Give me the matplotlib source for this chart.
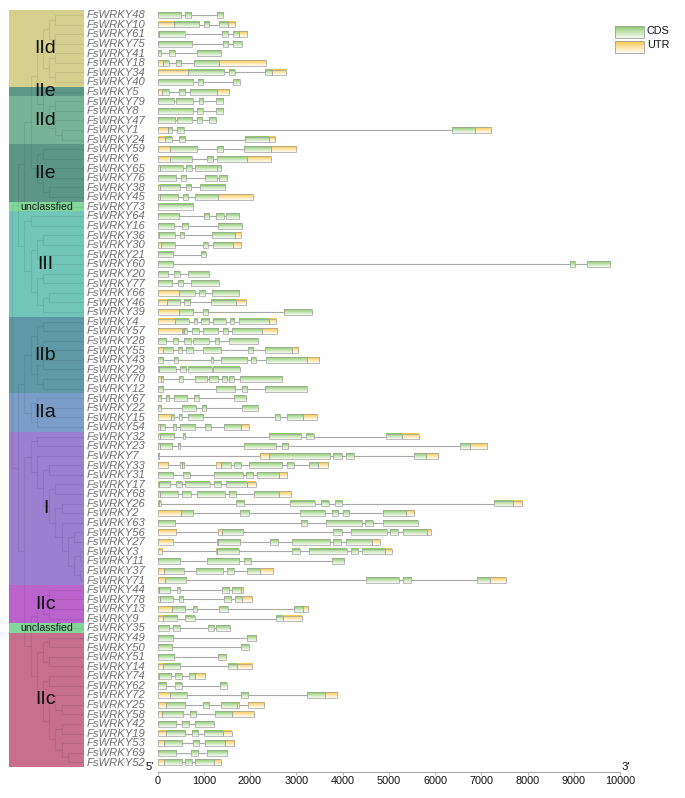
import numpy as np
import matplotlib
matplotlib.use('Agg')
import matplotlib.pyplot as plt
from matplotlib.patches import Rectangle
from matplotlib.colors import to_rgb

plt.rcParams['font.family'] = ['Liberation Sans', 'DejaVu Sans']

# gene order (top to bottom), numbers of FsWRKY genes
genes = [48, 10, 61, 75, 41, 18, 34, 40, 5, 79, 8, 47, 1, 24, 59, 6, 65, 76, 38, 45,
         73, 64, 16, 36, 30, 21, 60, 20, 77, 66, 46, 39, 4, 57, 28, 55, 43, 29, 70, 12,
         67, 22, 15, 54, 32, 23, 7, 33, 31, 17, 68, 26, 2, 63, 56, 27, 3, 11, 37, 71,
         44, 78, 13, 9, 35, 49, 50, 51, 14, 74, 62, 72, 25, 58, 42, 19, 53, 69, 52]

group_names = ['IId', 'IIe', 'IId', 'IIe', 'unclassfied', 'III', 'IIb', 'IIa', 'I',
               'IIc', 'unclassfied', 'IIc']
group_sizes = [8, 1, 5, 6, 1, 11, 8, 4, 16, 4, 1, 14]
group_colors = ['#d5d08e', '#5e9886', '#78b397', '#5d9685', '#82d89b', '#72c6b8',
                '#5f98a6', '#7a9ec8', '#9b80d0', '#bb63cc', '#82d89b', '#c76f8c']

# tree topology (approximate)
clade_d1 = (((48, 10), (61, 75)), ((41, 18), (34, 40)))
clade_d2 = (5, ((79, 8), (47, (1, 24))))
clade_e = ((59, 6), ((65, 76), (38, 45)))
clade_3 = ((64, 16), (((36, 30), (21, 60)), ((20, 77), ((66, 46), 39))))
clade_b = (((4, 57), (28, 55)), ((43, 29), (70, 12)))
clade_a = ((67, 22), (15, 54))
clade_1 = ((32, 23), (7, ((33, 31), ((17, 68), ((26, 2), (63, ((56, 27), ((3, 11), (37, 71)))))))))
clade_c1 = ((44, 78), (13, 9))
clade_c2 = (((49, 50), (51, 14)), ((74, 62), ((72, (25, 58)), ((42, 19), (53, (69, 52))))))
tree = (((((clade_d1, clade_d2), clade_e), 73), clade_3),
        ((clade_b, clade_a), (clade_1, ((clade_c1, 35), clade_c2))))

# gene models: (start, end, type) in bp, C = CDS, U = UTR
gene_models = {
    48: [(0, 500, 'C'), (590, 720, 'C'), (1280, 1420, 'C')],
    10: [(0, 355, 'U'), (355, 905, 'C'), (1005, 1115, 'C'), (1335, 1530, 'C'), (1530, 1685, 'U')],
    61: [(0, 40, 'U'), (40, 600, 'C'), (1400, 1515, 'C'), (1625, 1755, 'C'), (1755, 1935, 'U')],
    75: [(0, 740, 'C'), (1410, 1530, 'C'), (1640, 1820, 'C')],
    41: [(0, 85, 'C'), (255, 380, 'C'), (860, 1365, 'C')],
    18: [(0, 125, 'U'), (125, 250, 'C'), (395, 515, 'C'), (790, 1335, 'C'), (1335, 2340, 'U')],
    34: [(0, 665, 'U'), (665, 1445, 'C'), (1555, 1670, 'C'), (2325, 2470, 'C'), (2470, 2780, 'U')],
    40: [(0, 760, 'C'), (870, 990, 'C'), (1640, 1785, 'C')],
    5: [(0, 100, 'U'), (100, 240, 'C'), (465, 600, 'C'), (700, 1285, 'C'), (1285, 1550, 'U')],
    79: [(0, 350, 'C'), (400, 760, 'C'), (890, 985, 'C'), (1265, 1425, 'C')],
    8: [(0, 760, 'C'), (855, 975, 'C'), (1265, 1425, 'C')],
    47: [(0, 370, 'C'), (415, 740, 'C'), (860, 970, 'C'), (1115, 1260, 'C')],
    1: [(0, 220, 'U'), (220, 320, 'C'), (430, 580, 'C'), (6375, 6870, 'C'), (6870, 7200, 'U')],
    24: [(0, 170, 'U'), (170, 320, 'C'), (465, 600, 'C'), (1900, 2420, 'C'), (2420, 2550, 'U')],
    59: [(0, 270, 'U'), (270, 860, 'C'), (1280, 1425, 'C'), (1865, 2445, 'C'), (2445, 2995, 'U')],
    6: [(0, 270, 'U'), (270, 740, 'C'), (1080, 1210, 'C'), (1295, 1930, 'C'), (1930, 2445, 'U')],
    65: [(0, 55, 'U'), (55, 545, 'C'), (625, 740, 'C'), (810, 1280, 'C'), (1290, 1380, 'C')],
    76: [(0, 390, 'C'), (500, 615, 'C'), (1025, 1280, 'C'), (1320, 1495, 'C')],
    38: [(0, 55, 'U'), (55, 495, 'C'), (610, 720, 'C'), (920, 1465, 'C')],
    45: [(0, 55, 'U'), (55, 450, 'C'), (545, 655, 'C'), (820, 1310, 'C'), (1310, 2060, 'U')],
    73: [(0, 775, 'C')],
    64: [(0, 465, 'C'), (1000, 1120, 'C'), (1270, 1440, 'C'), (1480, 1770, 'C')],
    16: [(0, 350, 'C'), (530, 660, 'C'), (1315, 1820, 'C')],
    36: [(0, 40, 'U'), (40, 385, 'C'), (485, 580, 'C'), (1185, 1685, 'C'), (1685, 1810, 'U')],
    30: [(0, 85, 'U'), (85, 380, 'C'), (985, 1085, 'C'), (1205, 1625, 'C'), (1625, 1800, 'U')],
    21: [(0, 330, 'C'), (950, 1055, 'C')],
    60: [(0, 330, 'C'), (8926, 9030, 'C'), (9280, 9780, 'C')],
    20: [(0, 235, 'C'), (355, 480, 'C'), (665, 1115, 'C')],
    77: [(0, 320, 'C'), (435, 560, 'C'), (715, 1320, 'C')],
    66: [(0, 465, 'U'), (465, 810, 'C'), (905, 1035, 'C'), (1170, 1770, 'C')],
    46: [(0, 210, 'U'), (210, 495, 'C'), (575, 705, 'C'), (1150, 1700, 'C'), (1700, 1920, 'U')],
    39: [(0, 465, 'U'), (465, 775, 'C'), (975, 1090, 'C'), (2735, 3340, 'C')],
    4: [(0, 385, 'U'), (385, 675, 'C'), (780, 860, 'C'), (940, 1120, 'C'), (1205, 1475, 'C'),
        (1560, 1660, 'C'), (1755, 2405, 'C'), (2405, 2560, 'U')],
    57: [(0, 525, 'U'), (545, 565, 'C'), (580, 630, 'C'), (740, 890, 'C'), (990, 1315, 'C'),
         (1410, 1515, 'C'), (1615, 2250, 'C'), (2250, 2585, 'U')],
    28: [(0, 175, 'C'), (340, 450, 'C'), (565, 715, 'C'), (775, 1105, 'C'), (1235, 1330, 'C'),
         (1555, 2165, 'C')],
    55: [(0, 125, 'U'), (125, 340, 'C'), (435, 530, 'C'), (610, 775, 'C'), (990, 1365, 'C'),
         (1950, 2065, 'C'), (2325, 2900, 'C'), (2900, 3030, 'U')],
    43: [(0, 110, 'C'), (355, 435, 'C'), (1150, 1205, 'C'), (1365, 1930, 'C'), (2015, 2120, 'C'),
         (2345, 3240, 'C'), (3240, 3500, 'U')],
    29: [(0, 25, 'C'), (40, 395, 'C'), (495, 625, 'C'), (665, 1170, 'C'), (1205, 1785, 'C')],
    70: [(0, 75, 'U'), (75, 125, 'C'), (465, 550, 'C'), (820, 1080, 'C'), (1115, 1310, 'C'),
         (1385, 1495, 'C'), (1555, 1660, 'C'), (1775, 2685, 'C')],
    12: [(0, 125, 'C'), (1260, 1675, 'C'), (1825, 1940, 'C'), (2330, 3225, 'C')],
    67: [(0, 75, 'C'), (185, 255, 'C'), (355, 640, 'C'), (795, 895, 'C'), (1660, 1905, 'C')],
    22: [(0, 75, 'C'), (525, 825, 'C'), (955, 1055, 'C'), (1835, 2175, 'C')],
    15: [(0, 285, 'U'), (285, 365, 'C'), (470, 530, 'C'), (665, 990, 'C'), (2550, 2650, 'C'),
         (2795, 3155, 'C'), (3155, 3440, 'U')],
    54: [(0, 55, 'U'), (55, 155, 'C'), (330, 400, 'C'), (495, 820, 'C'), (1035, 1150, 'C'),
         (1445, 1800, 'C'), (1800, 1970, 'U')],
    32: [(0, 55, 'U'), (55, 365, 'C'), (550, 600, 'C'), (2405, 3110, 'C'), (3220, 3385, 'C'),
         (4935, 5295, 'C'), (5295, 5650, 'U')],
    23: [(0, 55, 'U'), (55, 320, 'C'), (435, 495, 'C'), (1880, 2560, 'C'), (2685, 2830, 'C'),
         (6540, 6755, 'C'), (6755, 7130, 'U')],
    7: [(0, 30, 'C'), (2210, 2405, 'U'), (2405, 3735, 'C'), (3800, 3980, 'C'), (4070, 4240, 'C'),
        (5546, 5800, 'C'), (5800, 6070, 'U')],
    33: [(0, 220, 'U'), (480, 520, 'U'), (520, 565, 'C'), (1270, 1375, 'U'), (1375, 1590, 'C'),
         (1660, 1800, 'C'), (1970, 2685, 'C'), (2800, 2945, 'C'), (3275, 3465, 'C'), (3465, 3690, 'U')],
    31: [(0, 330, 'C'), (555, 705, 'C'), (1230, 1840, 'C'), (1910, 2070, 'C'), (2160, 2620, 'C'),
         (2620, 2805, 'U')],
    17: [(0, 30, 'U'), (30, 275, 'C'), (395, 520, 'C'), (600, 1130, 'C'), (1215, 1375, 'C'),
         (1480, 1930, 'C'), (1930, 2120, 'U')],
    68: [(0, 55, 'U'), (55, 435, 'C'), (535, 715, 'C'), (860, 1450, 'C'), (1540, 1690, 'C'),
         (2095, 2635, 'C'), (2635, 2880, 'U')],
    26: [(0, 40, 'U'), (40, 75, 'C'), (1690, 1880, 'C'), (2870, 3410, 'C'), (3545, 3700, 'C'),
         (3840, 3995, 'C'), (7285, 7695, 'C'), (7695, 7890, 'U')],
    2: [(0, 515, 'U'), (515, 775, 'C'), (1790, 1985, 'C'), (3090, 3630, 'C'), (3765, 3910, 'C'),
        (4000, 4150, 'C'), (4885, 5375, 'C'), (5375, 5555, 'U')],
    63: [(0, 385, 'C'), (3100, 3240, 'C'), (3640, 4415, 'C'), (4490, 4650, 'C'), (4870, 5625, 'C')],
    56: [(0, 395, 'U'), (1315, 1400, 'U'), (1400, 1855, 'C'), (3790, 3980, 'C'), (4180, 4955, 'C'),
         (5030, 5195, 'C'), (5300, 5820, 'C'), (5820, 5920, 'U')],
    27: [(0, 345, 'U'), (1280, 1300, 'U'), (1300, 1785, 'C'), (2430, 2610, 'C'), (2915, 3720, 'C'),
         (3800, 3960, 'C'), (4070, 4630, 'C'), (4630, 4800, 'U')],
    3: [(0, 90, 'U'), (1265, 1295, 'U'), (1295, 1755, 'C'), (2910, 3080, 'C'), (3280, 4090, 'C'),
        (4175, 4345, 'C'), (4420, 4925, 'C'), (4925, 5070, 'U')],
    11: [(0, 480, 'C'), (1065, 1770, 'C'), (1865, 2015, 'C'), (3765, 4025, 'C')],
    37: [(0, 150, 'U'), (150, 580, 'C'), (825, 1425, 'C'), (1510, 1660, 'C'), (1930, 2215, 'C'),
         (2215, 2505, 'U')],
    71: [(0, 160, 'U'), (160, 615, 'C'), (4515, 5220, 'C'), (5300, 5475, 'C'), (6900, 7190, 'C'),
         (7190, 7530, 'U')],
    44: [(0, 30, 'U'), (30, 270, 'C'), (420, 495, 'C'), (1385, 1540, 'C'), (1620, 1800, 'C'),
         (1800, 1855, 'U')],
    78: [(0, 55, 'U'), (55, 330, 'C'), (470, 545, 'C'), (1440, 1595, 'C'), (1670, 1835, 'C'),
         (1835, 2040, 'U')],
    13: [(0, 305, 'U'), (305, 600, 'C'), (775, 845, 'C'), (1335, 1515, 'C'), (2960, 3140, 'C'),
         (3140, 3260, 'U')],
    9: [(0, 125, 'U'), (125, 430, 'C'), (600, 810, 'C'), (2555, 2720, 'C'), (2720, 3115, 'U')],
    35: [(0, 255, 'C'), (340, 485, 'C'), (1100, 1230, 'C'), (1270, 1570, 'C')],
    49: [(0, 340, 'C'), (1930, 2130, 'C')],
    50: [(0, 320, 'C'), (1800, 1970, 'C')],
    51: [(0, 360, 'C'), (1300, 1480, 'C')],
    14: [(0, 110, 'U'), (110, 495, 'C'), (1515, 1710, 'C'), (1710, 2035, 'U')],
    74: [(0, 25, 'U'), (25, 300, 'C'), (380, 520, 'C'), (680, 800, 'C'), (800, 1030, 'U')],
    62: [(0, 180, 'C'), (380, 530, 'C'), (1350, 1500, 'C')],
    72: [(0, 270, 'U'), (270, 630, 'C'), (1800, 1960, 'C'), (3240, 3620, 'C'), (3620, 3890, 'U')],
    25: [(0, 180, 'U'), (180, 600, 'C'), (980, 1120, 'C'), (1370, 1720, 'C'), (1720, 1770, 'U'),
         (1950, 2310, 'U')],
    58: [(0, 90, 'U'), (90, 550, 'C'), (700, 830, 'C'), (1240, 1620, 'C'), (1620, 2090, 'U')],
    42: [(0, 390, 'C'), (530, 690, 'C'), (810, 1220, 'C')],
    19: [(0, 180, 'U'), (180, 600, 'C'), (750, 880, 'C'), (1000, 1410, 'C'), (1410, 1600, 'U')],
    53: [(0, 140, 'U'), (140, 520, 'C'), (760, 900, 'C'), (1020, 1450, 'C'), (1450, 1660, 'U')],
    69: [(0, 410, 'C'), (720, 880, 'C'), (1070, 1510, 'C')],
    52: [(0, 130, 'U'), (130, 520, 'C'), (590, 740, 'C'), (820, 1230, 'C'), (1230, 1380, 'U')],
}

xticks = list(range(0, 10001, 1000))

W, H = 685, 798
row0, pitch = 15.0, 9.58
axis_y = 771.5


def ypx(i):
    return row0 + i * pitch


fig = plt.figure(figsize=(W / 100, H / 100), dpi=100)
ax0 = fig.add_axes([0, 0, 1, 1])
ax0.set_xlim(0, W)
ax0.set_ylim(H, 0)
ax0.axis('off')

ax = fig.add_axes([157.5 / W, (H - axis_y) / H, 462.5 / W, axis_y / H])
ax.patch.set_alpha(0)

# group blocks
start = 0
for name, n, col in zip(group_names, group_sizes, group_colors):
    y0 = ypx(start) - pitch / 2
    y1 = ypx(start + n - 1) + pitch / 2
    ax0.add_patch(Rectangle((9, y0), 84.5 - 9, y1 - y0, fc=col, ec='none', zorder=1))
    yc = (y0 + y1) / 2
    if name == 'unclassfied':
        ax0.text(46.5, yc + 0.3, name, ha='center', va='center', fontsize=7.6,
                 color='#1a1a1a', zorder=4)
    else:
        ax0.text(45.5, yc, name, ha='center', va='center', fontsize=14,
                 color='#111111', zorder=4)
    start += n

# tree
x_root, x_leaf, step = 12.0, 84.5, 6.2
tree_kw = dict(color='black', alpha=0.08, lw=0.8, zorder=2, solid_capstyle='butt')


def draw_tree(node, depth):
    if isinstance(node, int):
        return ypx(genes.index(node))
    x = x_root + depth * step
    ys = []
    for ch in node:
        yc = draw_tree(ch, depth + 1)
        xc = x_leaf if isinstance(ch, int) else x_root + (depth + 1) * step
        ax0.plot([x, xc], [yc, yc], **tree_kw)
        ys.append(yc)
    ax0.plot([x, x], [min(ys), max(ys)], **tree_kw)
    return (min(ys) + max(ys)) / 2


draw_tree(tree, 0)

# gene labels
for i, g in enumerate(genes):
    ax0.text(86.5, ypx(i) + 0.3, 'FsWRKY%d' % g, ha='left', va='center', fontsize=8.1,
             style='italic', color='#6e6e6e')

# gradient boxes
tops = {'C': '#82c75e', 'U': '#f7c53c'}
bottoms = {'C': '#f3f8ee', 'U': '#fffaf0'}


def grad(kind, n=12):
    t = np.linspace(0, 1, n)[:, None] ** 0.8
    c0 = np.array(to_rgb(tops[kind]))
    c1 = np.array(to_rgb(bottoms[kind]))
    return (c0 * (1 - t) + c1 * t)[:, None, :]


hh = 2.9
for i, g in enumerate(genes):
    y = ypx(i)
    segs = gene_models[g]
    ax.plot([min(s[0] for s in segs), max(s[1] for s in segs)], [y, y],
            color='#a8a8a8', lw=0.8, zorder=2)
    for s, e, k in segs:
        ax.imshow(grad(k), extent=(s, e, y + hh, y - hh), aspect='auto',
                  interpolation='bilinear', zorder=3)
        ax.add_patch(Rectangle((s, y - hh), e - s, 2 * hh, fill=False,
                               ec='#a0a0a0', lw=0.5, zorder=4))

ax.set_xlim(0, 10000)
ax.set_ylim(axis_y, 0)
for sp in ['top', 'right', 'left']:
    ax.spines[sp].set_visible(False)
ax.spines['bottom'].set_color('#aaaaaa')
ax.spines['bottom'].set_linewidth(0.8)
ax.set_yticks([])
ax.set_xticks(xticks)
ax.set_xticklabels([str(v) for v in xticks])
ax.tick_params(axis='x', length=2, width=0.6, color='#aaaaaa', pad=1.5,
               labelsize=7.8, labelcolor='#111111')

ax0.text(154, 767, "5'", ha='right', va='center', fontsize=8.2, color='#111111')
ax0.text(622, 767, "3'", ha='left', va='center', fontsize=8.2, color='#111111')

# legend
for j, (k, lab) in enumerate([('C', 'CDS'), ('U', 'UTR')]):
    ly = 26 + j * 15
    ax0.imshow(grad(k), extent=(615, 644, ly + 12, ly), aspect='auto',
               interpolation='bilinear', zorder=3)
    ax0.add_patch(Rectangle((615, ly), 29, 12, fill=False, ec='#a0a0a0', lw=0.6, zorder=4))
    ax0.text(647, ly + 4.5, lab, ha='left', va='center', fontsize=7.8, color='#111111')
ax0.set_xlim(0, W)
ax0.set_ylim(H, 0)

fig.savefig('out.png', dpi=100)
